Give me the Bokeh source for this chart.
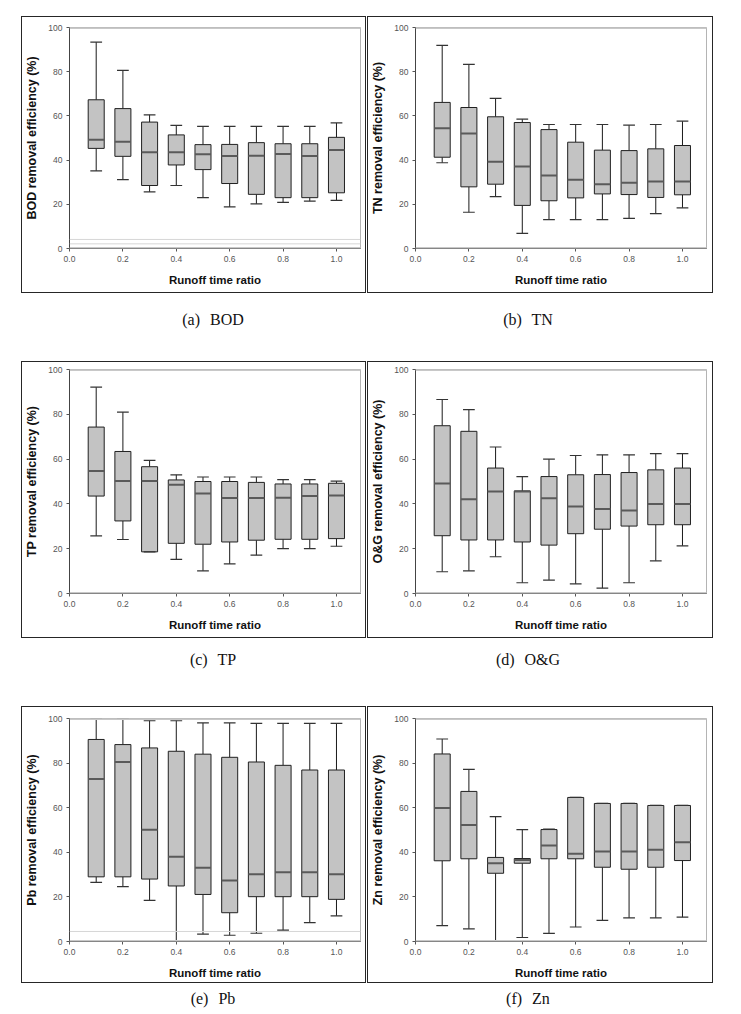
from bokeh.plotting import figure
from bokeh.layouts import column, row
from bokeh.models import Range1d, Span, ColumnDataSource, FixedTicker, Div
from bokeh.embed import file_html
from bokeh.resources import INLINE

ratio = [0.1, 0.2, 0.3, 0.4, 0.5, 0.6, 0.7, 0.8, 0.9, 1.0]

# BOD
bod_hi = [93.4, 80.6, 60.5, 55.7, 55.3, 55.3, 55.3, 55.3, 55.3, 56.8]
bod_q3 = [67.3, 63.3, 57.2, 51.4, 47.0, 47.1, 47.9, 47.4, 47.4, 50.3]
bod_med = [49.2, 48.3, 43.5, 43.5, 42.6, 41.9, 42.0, 42.8, 41.9, 44.6]
bod_q1 = [45.3, 41.7, 28.5, 37.8, 35.7, 29.4, 24.5, 23.0, 23.0, 25.2]
bod_lo = [35.1, 31.2, 25.6, 28.5, 23.0, 18.8, 20.2, 20.9, 21.4, 21.8]

# TN
tn_hi = [91.9, 83.3, 67.9, 58.5, 56.1, 56.1, 56.1, 55.8, 56.1, 57.6]
tn_q3 = [66.1, 63.8, 59.6, 57.0, 53.8, 48.1, 44.5, 44.3, 45.1, 46.6]
tn_med = [54.4, 52.0, 39.2, 37.1, 33.0, 31.1, 29.1, 29.7, 30.3, 30.3]
tn_q1 = [41.3, 27.9, 29.1, 19.5, 21.6, 22.9, 24.7, 24.4, 23.1, 24.3]
tn_lo = [38.8, 16.4, 23.5, 6.8, 13.1, 13.1, 13.1, 13.6, 15.8, 18.4]

# TP
tp_hi = [92.1, 81.0, 59.4, 53.0, 52.0, 52.0, 52.0, 50.8, 50.8, 50.2]
tp_q3 = [74.3, 63.4, 56.6, 50.7, 50.0, 50.0, 49.6, 48.9, 48.9, 49.2]
tp_med = [54.7, 50.2, 50.2, 48.5, 44.6, 42.6, 42.6, 42.8, 43.5, 43.8]
tp_q1 = [43.5, 32.4, 18.6, 22.4, 22.0, 23.0, 23.8, 24.2, 24.2, 24.5]
tp_lo = [25.7, 24.1, 18.6, 15.2, 10.1, 13.2, 17.1, 20.0, 20.0, 21.1]

# O&G
og_hi = [86.6, 82.1, 65.4, 52.2, 60.0, 61.6, 61.9, 61.9, 62.4, 62.4]
og_q3 = [74.9, 72.4, 56.0, 45.8, 52.2, 53.0, 53.1, 54.0, 55.2, 56.0]
og_med = [49.1, 42.1, 45.5, 45.5, 42.5, 38.8, 37.7, 37.0, 40.0, 40.0]
og_q1 = [25.8, 23.9, 23.9, 23.0, 21.6, 26.7, 28.7, 30.1, 30.7, 30.7]
og_lo = [9.7, 10.1, 16.4, 4.8, 6.0, 4.3, 2.4, 4.8, 14.6, 21.3]

# Pb
pb_hi = [99.6, 99.6, 99.0, 99.0, 98.0, 98.0, 97.8, 97.8, 97.8, 97.8]
pb_q3 = [90.6, 88.3, 86.8, 85.3, 84.0, 82.6, 80.5, 79.0, 76.9, 76.9]
pb_med = [72.9, 80.5, 50.1, 38.0, 33.1, 27.4, 30.2, 31.1, 31.1, 30.2]
pb_q1 = [29.0, 29.0, 28.0, 24.9, 21.1, 12.9, 20.1, 20.1, 20.1, 18.9]
pb_lo = [26.5, 24.6, 18.4, 0.0, 3.3, 2.8, 3.7, 5.1, 8.5, 11.5]

# Zn
zn_hi = [90.8, 77.2, 56.0, 50.2, 50.4, 64.6, 61.9, 61.9, 61.0, 61.0]
zn_q3 = [84.1, 67.3, 37.7, 37.2, 50.2, 64.6, 61.9, 61.9, 61.0, 61.0]
zn_med = [59.9, 52.2, 35.1, 36.6, 43.1, 39.3, 40.4, 40.4, 41.1, 44.5]
zn_q1 = [36.2, 37.1, 30.6, 35.1, 37.1, 37.1, 33.3, 32.4, 33.3, 36.3]
zn_lo = [7.1, 5.7, 0.0, 1.8, 3.6, 6.5, 9.5, 10.6, 10.6, 10.9]

y_labels = ["BOD removal efficiency (%)", "TN removal efficiency (%)",
            "TP removal efficiency (%)", "O&G removal efficiency (%)",
            "Pb removal efficiency (%)", "Zn removal efficiency (%)"]
captions = ["(a) BOD", "(b) TN", "(c) TP", "(d) O&G", "(e) Pb", "(f) Zn"]
x_label = "Runoff time ratio"
x_ticks = [0.0, 0.2, 0.4, 0.6, 0.8, 1.0]
y_ticks = [0, 20, 40, 60, 80, 100]
faint_lines = [[2.1, 4.1], [], [], [], [4.5], []]

series = [
    (bod_hi, bod_q3, bod_med, bod_q1, bod_lo),
    (tn_hi, tn_q3, tn_med, tn_q1, tn_lo),
    (tp_hi, tp_q3, tp_med, tp_q1, tp_lo),
    (og_hi, og_q3, og_med, og_q1, og_lo),
    (pb_hi, pb_q3, pb_med, pb_q1, pb_lo),
    (zn_hi, zn_q3, zn_med, zn_q1, zn_lo),
]

PANEL_H = 275
# per row: (margin top of figures, frame top border, frame height, caption margin top)
rows_geo = [(17, 10, 221, 18), (32, 7, 224, 13), (37, 11, 223, 10)]
# per column: (figure width, margin left, min border left, min border right, caption margin left)
cols_geo = [(343, 22, 44, 5, 113), (344, 3, 44, 6, 115)]
CAP_H = [20, 20, 14]

BOXW = 0.06
CAPW = 0.044


def make_panel(i):
    r, c = divmod(i, 2)
    mtop, top, fh, _ = rows_geo[r]
    w, mleft, left, right, _ = cols_geo[c]
    hi, q3, med, q1, lo = series[i]
    p = figure(width=w, height=PANEL_H, output_backend="svg", toolbar_location=None,
               x_range=Range1d(0, 1.09), y_range=Range1d(0, 100),
               min_border_left=left, min_border_right=right,
               min_border_top=top, min_border_bottom=PANEL_H - top - fh,
               margin=(mtop, 0, 0, mleft),
               styles={"outline": "1.5px solid #262626", "outline-offset": "0px"})
    p.background_fill_color = "white"
    p.border_fill_color = "white"
    p.outline_line_color = "#b4b4b4"
    p.outline_line_width = 1
    p.xgrid.visible = False
    p.ygrid.visible = False

    for v in faint_lines[i]:
        p.add_layout(Span(location=v, dimension="width", line_color="#d6d6d6", line_width=1))
    p.add_layout(Span(location=100, dimension="width", line_color="#c8c8c8", line_width=3))
    p.add_layout(Span(location=0, dimension="width", line_color="#c8c8c8", line_width=3))

    src = ColumnDataSource(dict(x=ratio, hi=hi, q3=q3, med=med, q1=q1, lo=lo,
                                xl=[x - BOXW / 2 for x in ratio], xr=[x + BOXW / 2 for x in ratio],
                                cl=[x - CAPW / 2 for x in ratio], cr=[x + CAPW / 2 for x in ratio]))
    p.segment(x0="x", y0="q3", x1="x", y1="hi", source=src, line_color="#1a1a1a", line_width=1)
    p.segment(x0="x", y0="q1", x1="x", y1="lo", source=src, line_color="#1a1a1a", line_width=1)
    p.vbar(x="x", width=BOXW, top="q3", bottom="q1", source=src,
           fill_color="#c3c3c3", line_color="#202020", line_width=1)
    p.segment(x0="xl", y0="med", x1="xr", y1="med", source=src, line_color="#5a5a5a", line_width=2)
    p.segment(x0="cl", y0="hi", x1="cr", y1="hi", source=src, line_color="#333333", line_width=1.2)
    p.segment(x0="cl", y0="lo", x1="cr", y1="lo", source=src, line_color="#333333", line_width=1.2)

    for ax in (p.xaxis[0], p.yaxis[0]):
        ax.axis_line_color = "#444444"
        ax.axis_line_width = 1
        ax.major_tick_line_color = "#555555"
        ax.major_tick_out = 3
        ax.major_tick_in = 0
        ax.minor_tick_line_color = None
        ax.major_label_text_font = "Liberation Sans"
        ax.major_label_text_font_size = "8.5px"
        ax.major_label_text_color = "#555555"
        ax.major_label_standoff = 4
        ax.axis_label_text_font = "Liberation Sans"
        ax.axis_label_text_font_style = "bold"
        ax.axis_label_text_color = "#111111"
    p.xaxis.axis_label_text_font_size = "11.5px"
    p.yaxis.axis_label_text_font_size = "12.5px"
    p.xaxis.ticker = FixedTicker(ticks=x_ticks)
    p.yaxis.ticker = FixedTicker(ticks=y_ticks)
    p.xaxis.major_label_overrides = {t: f"{t:.1f}" for t in x_ticks}
    p.xaxis.axis_label = x_label
    p.yaxis.axis_label = y_labels[i]
    p.xaxis.axis_label_standoff = 9
    p.yaxis.axis_label_standoff = 6
    return p


def make_caption(i):
    r, c = divmod(i, 2)
    ctop = rows_geo[r][3]
    cleft = cols_geo[c][4]
    h = CAP_H[r]
    return Div(text=captions[i], width=200, height=h, margin=(ctop, 0, 0, cleft),
               styles={"font-family": "Liberation Serif", "font-size": "16px",
                       "text-align": "center", "line-height": f"{h}px",
                       "color": "#111111", "word-spacing": "6px",
                       "width": "200px", "overflow": "visible"})


panels = [make_panel(i) for i in range(6)]
caps = [make_caption(i) for i in range(6)]
layout = column(
    row(panels[0], panels[1]), row(caps[0], caps[1]),
    row(panels[2], panels[3]), row(caps[2], caps[3]),
    row(panels[4], panels[5]), row(caps[4], caps[5]),
)

open("out.html", "w").write(file_html(layout, INLINE))
